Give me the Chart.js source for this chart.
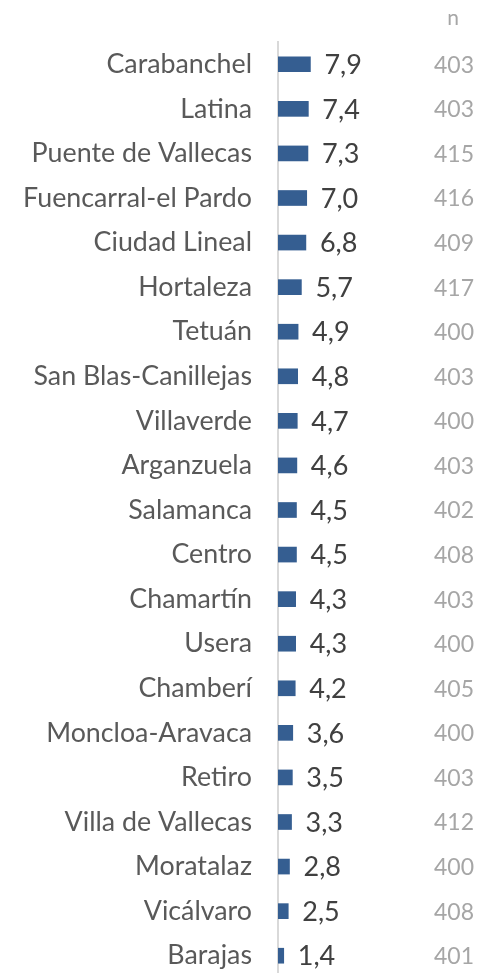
<!DOCTYPE html>
<html>
<head>
<meta charset="utf-8">
<script src="https://cdn.jsdelivr.net/npm/chart.js@4.4.1/dist/chart.umd.min.js"></script>
<style>
html,body{margin:0;padding:0;background:#fff;overflow:hidden;}
#wrap{width:477px;height:980px;position:relative;}
</style>
</head>
<body>
<div id="wrap"><canvas id="c" width="477" height="980"></canvas></div>
<script>
const districts = ["Carabanchel","Latina","Puente de Vallecas","Fuencarral-el Pardo","Ciudad Lineal","Hortaleza","Tetuán","San Blas-Canillejas","Villaverde","Arganzuela","Salamanca","Centro","Chamartín","Usera","Chamberí","Moncloa-Aravaca","Retiro","Villa de Vallecas","Moratalaz","Vicálvaro","Barajas"];
const values = [7.9,7.4,7.3,7.0,6.8,5.7,4.9,4.8,4.7,4.6,4.5,4.5,4.3,4.3,4.2,3.6,3.5,3.3,2.8,2.5,1.4];
const nValues = [403,403,415,416,409,417,400,403,400,403,402,408,403,400,405,400,403,412,400,408,401];
const nHeader = "n";

const FONT = "Lato";

const labelsPlugin = {
  id: 'labelsPlugin',
  afterDatasetsDraw(chart) {
    const ctx = chart.ctx;
    const meta = chart.getDatasetMeta(0);
    ctx.save();
    ctx.textBaseline = 'middle';
    meta.data.forEach((bar, i) => {
      ctx.font = "27px " + FONT;
      ctx.fillStyle = '#404040';
      ctx.textAlign = 'left';
      ctx.fillText(values[i].toFixed(1).replace('.', ','), bar.x + 14, bar.y + 1);
      ctx.font = "23px " + FONT;
      ctx.fillStyle = '#A6A6A6';
      ctx.textAlign = 'right';
      ctx.fillText(String(nValues[i]), 474, bar.y + 1);
    });
    ctx.font = "21px " + FONT;
    ctx.fillStyle = '#A6A6A6';
    ctx.textAlign = 'center';
    ctx.fillText(nHeader, 453, 18);
    ctx.restore();
  }
};

new Chart(document.getElementById('c'), {
  type: 'bar',
  data: {
    labels: districts,
    datasets: [{
      data: values,
      backgroundColor: '#355E91',
      barThickness: 15
    }]
  },
  options: {
    indexAxis: 'y',
    responsive: false,
    animation: false,
    events: [],
    layout: { padding: { top: 42, right: 0, bottom: 2, left: 0 } },
    plugins: { legend: { display: false }, tooltip: { enabled: false } },
    scales: {
      x: { display: false, min: 0, max: 48.5 },
      y: {
        grid: { display: false, drawTicks: false },
        border: { display: true, color: '#D9D9D9', width: 2 },
        ticks: { font: { family: FONT, size: 26.8 }, color: '#595959', padding: 26, autoSkip: false },
        afterFit(scale) { scale.width = 278; scale.paddingTop = 0; scale.paddingBottom = 0; }
      }
    }
  },
  plugins: [labelsPlugin]
});
</script>
</body>
</html>
